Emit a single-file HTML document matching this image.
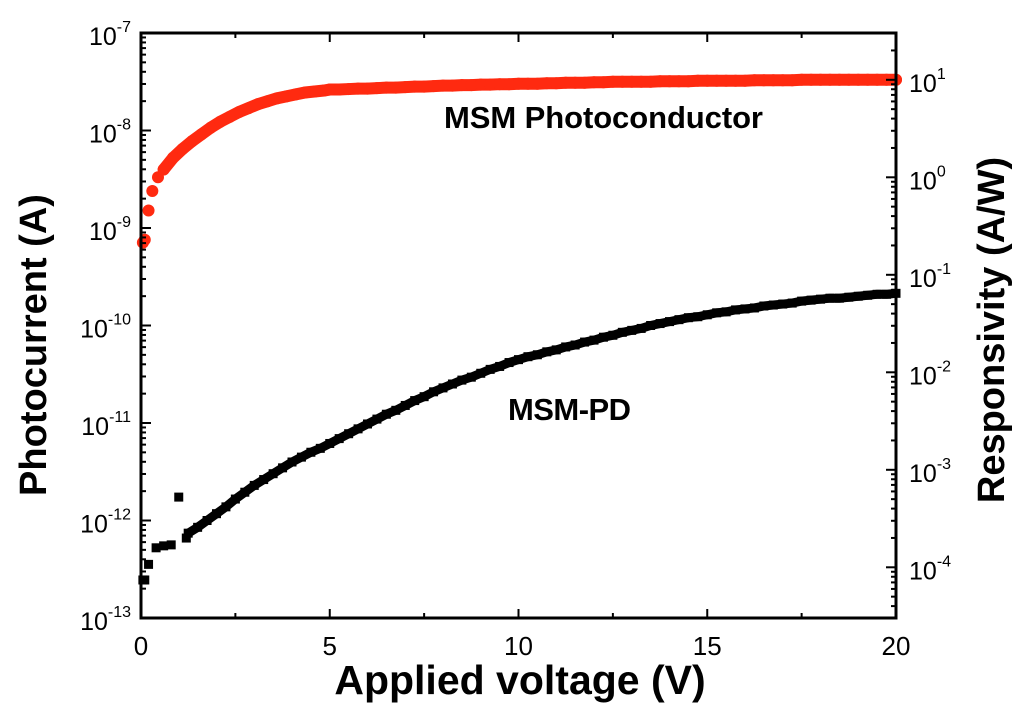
<!DOCTYPE html>
<html><head><meta charset="utf-8"><style>
html,body{margin:0;padding:0;background:#fff;}
svg{display:block;font-family:"Liberation Sans",Arial,sans-serif;}
</style></head><body>
<svg id="chart" width="1024" height="711" viewBox="0 0 1024 711" xmlns="http://www.w3.org/2000/svg">
<g id="marks"></g>
<g id="axes"></g>
<text x="444" y="128" font-size="31" font-weight="bold" textLength="319">MSM Photoconductor</text>
<text x="508" y="420" font-size="31" font-weight="bold" textLength="123">MSM-PD</text>
<text x="520" y="694" font-size="41" font-weight="bold" text-anchor="middle">Applied voltage (V)</text>
<text transform="translate(46,345) rotate(-90)" font-size="38" font-weight="bold" text-anchor="middle">Photocurrent (A)</text>
<text transform="translate(1004,330) rotate(-90)" font-size="38" font-weight="bold" text-anchor="middle">Responsivity (A/W)</text>
</svg>
<script>
const xTicks=[0,5,10,15,20];
const leftExps=[-7,-8,-9,-10,-11,-12,-13];
const rightExps=[1,0,-1,-2,-3,-4];
const redV=[0.05,0.1,0.2,0.3,0.45,0.6,0.85,1.1,1.35,1.6,1.85,2.1,2.35,2.6,2.85,3.1,3.35,3.6,3.85,4.1,4.35,4.6,4.85];
const redLog=[-9.15,-9.12,-8.82,-8.62,-8.48,-8.40,-8.28,-8.19,-8.11,-8.04,-7.97,-7.91,-7.86,-7.81,-7.77,-7.73,-7.70,-7.67,-7.65,-7.63,-7.61,-7.60,-7.59];
const redLog2=[-7.58,-7.58,-7.575,-7.57,-7.57,-7.565,-7.56,-7.56,-7.555,-7.55,-7.55,-7.545,-7.54,-7.54,-7.535,-7.535,-7.53,-7.53,-7.525,-7.525,-7.52,-7.52,-7.52,-7.515,-7.515,-7.51,-7.51,-7.51,-7.505,-7.505,-7.50,-7.50,-7.50,-7.50,-7.50,-7.495,-7.495,-7.495,-7.495,-7.49,-7.49,-7.49,-7.49,-7.49,-7.49,-7.485,-7.485,-7.485,-7.485,-7.485,-7.48,-7.48,-7.48,-7.48,-7.48,-7.48,-7.48,-7.48,-7.48,-7.48,-7.48];
const blackV=[0.05,0.1,0.2,0.4,0.6,0.8,1.0,1.2];
const blackLog=[-12.61,-12.61,-12.45,-12.28,-12.26,-12.25,-11.76,-12.18];
const blackLog2=[-12.13,-12.07,-12.00,-11.93,-11.86,-11.78,-11.71,-11.64,-11.58,-11.52,-11.46,-11.40,-11.35,-11.30,-11.26,-11.21,-11.16,-11.11,-11.06,-11.01,-10.96,-10.91,-10.87,-10.82,-10.77,-10.73,-10.68,-10.64,-10.60,-10.56,-10.53,-10.49,-10.45,-10.42,-10.38,-10.35,-10.32,-10.30,-10.27,-10.25,-10.22,-10.20,-10.17,-10.15,-10.12,-10.10,-10.07,-10.05,-10.03,-10.00,-9.98,-9.96,-9.94,-9.92,-9.91,-9.89,-9.87,-9.86,-9.84,-9.83,-9.82,-9.80,-9.79,-9.78,-9.77,-9.75,-9.74,-9.73,-9.72,-9.72,-9.71,-9.70,-9.69,-9.68,-9.68,-9.67];

const L=141,R=896,T=33,B=618;
const X=v=>L+(v-0)/(20-0)*(R-L);
const YL=lg=>T+(-7-lg)/6*(B-T);
const YR=lg=>YL(lg-8.48);
const NS="http://www.w3.org/2000/svg";
function mk(tag,attrs,parent){const e=document.createElementNS(NS,tag);for(const k in attrs)e.setAttribute(k,attrs[k]);parent.appendChild(e);return e;}
const marks=document.getElementById('marks'),axes=document.getElementById('axes');

const redPts=[];redV.forEach((v,i)=>redPts.push([v,redLog[i]]));
redLog2.forEach((lg,i)=>redPts.push([5+i*0.25,lg]));
const blkPts=[];blackV.forEach((v,i)=>blkPts.push([v,blackLog[i]]));
blackLog2.forEach((lg,i)=>blkPts.push([1.25+i*0.25,lg]));

// thin connecting band to emulate dense overlapping markers
const bp=blkPts.slice(8).map(p=>X(p[0])+','+YL(p[1])).join(' ');
const bl=mk('polyline',{points:bp,fill:'none',stroke:'#000','stroke-width':9},marks);


const rp=redPts.slice(5).map(p=>X(p[0])+','+YL(p[1])).join(' ');
const rl=mk('polyline',{points:rp,fill:'none',stroke:'#ff2a10','stroke-width':12,'stroke-linecap':'round'},marks);



blkPts.forEach(p=>{const r=mk('rect',{x:X(p[0])-4.5,y:YL(p[1])-4.5,width:9,height:9,fill:'#000'},marks);

});
redPts.forEach(p=>{const c=mk('circle',{cx:X(p[0]),cy:YL(p[1]),r:6,fill:'#ff2a10'},marks);

});

const fr=mk('rect',{x:L,y:T,width:R-L,height:B-T,fill:'none',stroke:'#000','stroke-width':3},axes);



xTicks.forEach(v=>{
 mk('line',{x1:X(v),x2:X(v),y1:B,y2:B-9,stroke:'#000','stroke-width':2},axes);
 mk('line',{x1:X(v),x2:X(v),y1:T,y2:T+9,stroke:'#000','stroke-width':2},axes);
 const t=mk('text',{x:X(v),y:B+37,'font-size':26,'text-anchor':'middle'},axes);t.textContent=v;
 
 
});
for(let v=2.5;v<20;v+=5){mk('line',{x1:X(v),x2:X(v),y1:B,y2:B-5,stroke:'#000','stroke-width':2},axes);mk('line',{x1:X(v),x2:X(v),y1:T,y2:T+5,stroke:'#000','stroke-width':2},axes);}

function logLabel(x,y,anchor,e){
 const t=mk('text',{x:x,y:y,'font-size':25,'text-anchor':anchor},axes);
 
 
 const a=mk('tspan',{},t);a.textContent='10';
 const b=mk('tspan',{dy:-13,'font-size':16},t);b.textContent=e;
}
leftExps.forEach(e=>{
 const y=YL(e);
 mk('line',{x1:L,x2:L+10,y1:y,y2:y,stroke:'#000','stroke-width':2},axes);
 for(let m=2;m<=9;m++){const yy=YL(e+Math.log10(m));if(yy>=T&&yy<=B)mk('line',{x1:L,x2:L+5,y1:yy,y2:yy,stroke:'#000','stroke-width':2},axes);}
 logLabel(131,y+12,'end',String(e));
});
for(let e=2;e>=-5;e--){
 const y=YR(e);
 if(y>=T&&y<=B)mk('line',{x1:R,x2:R-10,y1:y,y2:y,stroke:'#000','stroke-width':2},axes);
 for(let m=2;m<=9;m++){const yy=YR(e+Math.log10(m));if(yy>=T&&yy<=B)mk('line',{x1:R,x2:R-5,y1:yy,y2:yy,stroke:'#000','stroke-width':2},axes);}
}
rightExps.forEach(e=>logLabel(R+13,YR(e)+12,'start',String(e)));
</script>
</body></html>
